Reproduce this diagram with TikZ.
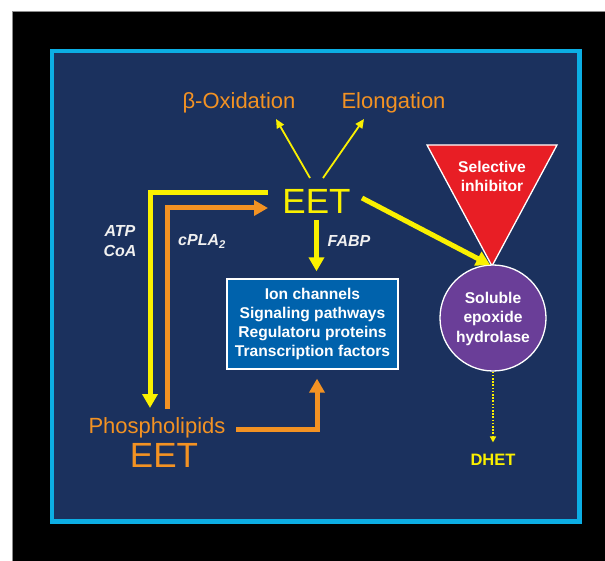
\documentclass[tikz,border=0pt]{standalone}
\usepackage{fontspec}
\setmainfont{Liberation Sans}
\usetikzlibrary{arrows.meta,positioning}

\definecolor{slidenavy}{RGB}{27,49,94}
\definecolor{slidecyan}{RGB}{12,174,228}
\definecolor{eetyellow}{RGB}{250,240,0}
\definecolor{eetorange}{RGB}{243,146,35}
\definecolor{boxblue}{RGB}{0,98,172}
\definecolor{inhibred}{RGB}{232,30,37}
\definecolor{sehpurple}{RGB}{106,62,152}
\definecolor{labelwhite}{RGB}{240,240,240}

\def\fsize#1#2{\fontsize{#1}{#2}\selectfont}

\tikzset{
	labeltext/.style={text=eetorange, font=\fsize{22}{26}, inner sep=0, anchor=base},
	eettext/.style={font=\fsize{35}{40}, inner sep=0, anchor=base},
	cofactor/.style={text=labelwhite, font=\fsize{16}{20}\bfseries\itshape, inner sep=0, anchor=base, align=center},
	whitebold/.style={text=white, font=\fsize{15.6}{19.5}\bfseries, inner sep=0, align=center},
	fatyellow/.style={line width=5pt, draw=eetyellow},
	fatorange/.style={line width=5pt, draw=eetorange},
	bigtip/.style={-{Triangle[length=14pt,width=15pt]}},
	thinyellow/.style={line width=1.8pt, draw=eetyellow, -{Triangle[length=9pt,width=8pt]}}
}

\begin{document}
\begin{tikzpicture}[x=1pt,y=-1pt]
	%%%%% START %%%%%
	\useasboundingbox (0,0) rectangle (605,561);
	\fill[white] (0,0) rectangle (605,561);
	\fill[black] (12,11) rectangle (606,562);
	\draw[black!45, line width=0.8pt] (12,562) -- (12,11) -- (606,11);
	\draw[line width=4.5pt, draw=slidecyan, fill=slidenavy] (52,51) rectangle (579.5,521.5);

	% texts (multi-line nodes sit on their last line)
	\node[eettext, text=eetyellow] (eet) at (316.5,214) {EET};
	\node[labeltext] (betaox) at (239,109) {β-Oxidation};
	\node[labeltext] (elong) at (393.5,109) {Elongation};
	\node[labeltext] (phos) at (157,433) {Phospholipids};
	\node[eettext, text=eetorange] (eetphos) at (164,467) {EET};
	\node[cofactor] (atp) at (120,257) {ATP\\CoA};
	\node[cofactor] (cpla) at (202,246) {cPLA\textsubscript{2}};
	\node[cofactor] (fabp) at (349,247) {FABP};

	% targets box
	\node[whitebold, draw=white, fill=boxblue, line width=1.3pt, minimum width=171pt, minimum height=90pt, font=\fsize{15.6}{18.7}\bfseries] (targets) at (312.5,324) {Ion channels\\Signaling pathways\\Regulatoru proteins\\Transcription factors};

	% inhibitor and hydrolase
	\coordinate (trileft) at (427,145);
	\coordinate (triright) at (557,145);
	\coordinate (tritip) at (492,266);
	\draw[fill=inhibred, draw=white, line width=1.3pt, line join=miter] (trileft) -- (triright) -- (tritip) -- cycle;
	\node[whitebold, anchor=base] (inhib) at (492,192) {Selective\\inhibitor};
	\node[circle, fill=sehpurple, draw=white, line width=1.3pt, minimum size=106pt, inner sep=0] (seh) at (493,318) {};
	\node[whitebold, anchor=base] (sehlabel) at (493,342) {Soluble\\epoxide\\hydrolase};
	\node[text=eetyellow, font=\fsize{16.5}{20}\bfseries, inner sep=0, anchor=base] (dhet) at (493,465) {DHET};

	% connectors
	\coordinate (oxtip) at (276,119);
	\coordinate (elotip) at (364,119);
	\coordinate (oxfoot) at (310,178);
	\coordinate (elofoot) at (323,178);
	\draw[thinyellow] (oxfoot) -- (oxtip);
	\draw[thinyellow] (elofoot) -- (elotip);

	\coordinate (ylstart) at (268,193);
	\coordinate (ylbend) at (150,193);
	\coordinate (ylend) at (150,408);
	\draw[fatyellow, bigtip] (ylstart) -- (ylbend) -- (ylend);

	\coordinate (orstart) at (167,409);
	\coordinate (orbend) at (167,208);
	\coordinate (orend) at (268,208);
	\draw[fatorange, bigtip] (orstart) -- (orbend) -- (orend);

	\coordinate (phosright) at (236,429);
	\coordinate (phosbend) at (317,429);
	\draw[fatorange, bigtip, shorten >=9pt] (phosright) -- (phosbend) -- (phosbend |- targets.south);

	\draw[fatyellow, bigtip, shorten <=6pt, shorten >=7pt] (eet.south) -- (eet.south |- targets.north);

	\coordinate (eetright) at (362,198);
	\draw[fatyellow, bigtip, shorten >=2pt] (eetright) -- (tritip);

	\draw[eetyellow, line width=1.6pt, dash pattern=on 1.6pt off 1.6pt, -{Triangle[length=6pt,width=6pt]}, shorten >=11pt] (seh.south) -- (dhet.north);
	%%%%% END %%%%%
\end{tikzpicture}
\end{document}
